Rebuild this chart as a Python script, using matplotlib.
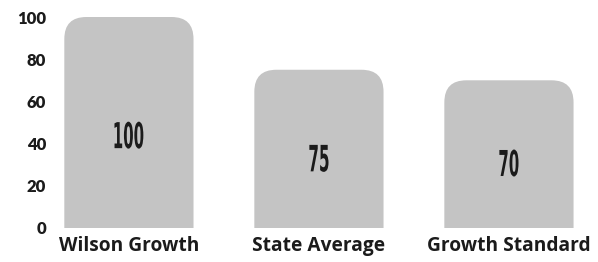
import matplotlib
matplotlib.use("Agg")
import matplotlib.pyplot as plt
from matplotlib.patches import FancyBboxPatch, PathPatch
from matplotlib.textpath import TextPath
from matplotlib.font_manager import FontProperties, findfont
from matplotlib.transforms import Affine2D, IdentityTransform

categories = ["Wilson Growth", "State Average", "Growth Standard"]
values = [100, 75, 70]
yticks = [0, 20, 40, 60, 80, 100]

bar_color = "#c4c4c4"
text_color = "#1b1b1b"
W, H = 598, 262

fig = plt.figure(figsize=(W / 100, H / 100), dpi=100)
# axes box in pixels: left 55, right 584, bottom 228 (from top), top 17
ax = fig.add_axes([55 / W, (H - 228) / H, (584 - 55) / W, (228 - 17) / H])
ax.set_xlim(-0.389, 2.395)
ax.set_ylim(0, 100)
for s in ax.spines.values():
    s.set_visible(False)

# units per pixel, so the corners come out round
xpp = (2.395 + 0.389) / (584 - 55)
ypp = 100 / (228 - 17)
radius_px = 22
bw = 0.68
for i, v in enumerate(values):
    p = FancyBboxPatch((i - bw / 2, -20), bw, v + 20,
                       boxstyle=f"round,pad=0,rounding_size={radius_px * xpp}",
                       mutation_aspect=ypp / xpp, fc=bar_color, ec="none",
                       clip_on=True)
    ax.add_patch(p)

# condensed bold numbers inside the bars
try:
    findfont(FontProperties(family="Liberation Sans Narrow", weight="bold"),
             fallback_to_default=False)
    num_fp = FontProperties(family="Liberation Sans Narrow", weight="bold")
    squeeze = 0.58
except Exception:
    num_fp = FontProperties(family="DejaVu Sans", weight="bold")
    squeeze = 0.42
cap_px = 27
for i, v in enumerate(values):
    tp = TextPath((0, 0), str(v), size=1, prop=num_fp)
    ext = tp.get_extents()
    sy = cap_px / ext.height
    sx = sy * squeeze
    cx, cy = ax.transData.transform((i, v * 0.44))
    tr = (Affine2D().translate(-(ext.x0 + ext.x1) / 2, -(ext.y0 + ext.y1) / 2)
          .scale(sx, sy).translate(cx, cy))
    ax.add_patch(PathPatch(tr.transform_path(tp), fc=text_color, ec="none",
                           transform=IdentityTransform(), clip_on=False))

ax.set_yticks(yticks)
ax.set_yticklabels([str(t) for t in yticks], fontsize=12, fontweight="heavy",
                   color=text_color, family="Lato")
ax.set_xticks(range(len(categories)))
ax.set_xticklabels(categories, fontsize=13.8, fontweight="bold",
                   color=text_color, family="Open Sans")
ax.tick_params(axis="y", length=0, pad=6.5)
ax.tick_params(axis="x", length=0, pad=5.5)

fig.savefig("out.png", dpi=100)
